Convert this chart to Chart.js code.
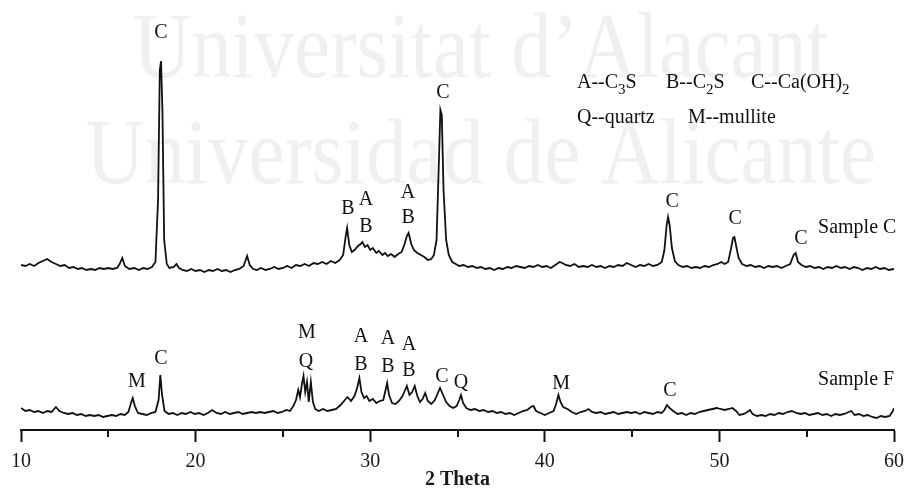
<!DOCTYPE html>
<html>
<head>
<meta charset="utf-8">
<title>XRD patterns</title>
<script src="https://cdn.jsdelivr.net/npm/chart.js@4.4.0/dist/chart.umd.min.js"></script>
<style>
  html, body { margin: 0; padding: 0; background: #fff; }
  canvas { display: block; }
</style>
</head>
<body>
<canvas id="xrdChart" width="908" height="490"></canvas>
<script>
// 2 theta range and ticks
const thetaMin = 10;
const thetaMax = 60;
const majorTicks = [10, 20, 30, 40, 50, 60];
const minorTicks = [15, 25, 35, 45, 55];

// Sample C pattern, [2 theta, intensity a.u.]
const sampleC = [
  [10.0, 20], [10.25, 19], [10.5, 21], [10.75, 19], [11.0, 22], [11.25, 24], [11.5, 26], [11.75, 23],
  [12.0, 21], [12.25, 19], [12.5, 20], [12.75, 17], [13.0, 18], [13.25, 16], [13.5, 17], [13.75, 15],
  [14.0, 16], [14.25, 15], [14.5, 17], [14.75, 16], [15.0, 17], [15.25, 16], [15.5, 17], [15.65, 21],
  [15.8, 27], [15.95, 19], [16.2, 16], [16.5, 17], [16.75, 15], [17.0, 17], [17.25, 16], [17.5, 18],
  [17.7, 23], [17.85, 85], [17.95, 215], [18.02, 224], [18.1, 175], [18.2, 45], [18.35, 21], [18.5, 17],
  [18.75, 18], [18.9, 21], [19.05, 17], [19.25, 15], [19.5, 14], [19.75, 16], [20.0, 14], [20.25, 15],
  [20.5, 13], [20.75, 15], [21.0, 14], [21.25, 16], [21.5, 14], [21.75, 15], [22.0, 13], [22.25, 15],
  [22.5, 16], [22.75, 19], [22.95, 29], [23.1, 20], [23.3, 16], [23.5, 15], [23.75, 17], [24.0, 15],
  [24.25, 16], [24.5, 18], [24.75, 16], [25.0, 17], [25.25, 19], [25.5, 17], [25.75, 20], [26.0, 19],
  [26.25, 21], [26.5, 19], [26.75, 22], [27.0, 21], [27.25, 23], [27.5, 21], [27.75, 24], [28.0, 22],
  [28.25, 25], [28.45, 30], [28.6, 49], [28.68, 57], [28.8, 40], [28.95, 33], [29.1, 35], [29.3, 39],
  [29.45, 41], [29.55, 43], [29.7, 38], [29.85, 40], [30.0, 35], [30.15, 37], [30.35, 32], [30.5, 34],
  [30.7, 30], [30.85, 32], [31.0, 29], [31.2, 31], [31.4, 28], [31.6, 31], [31.8, 33], [31.95, 40],
  [32.1, 49], [32.2, 52], [32.35, 41], [32.5, 35], [32.7, 32], [32.9, 30], [33.1, 28], [33.3, 25],
  [33.5, 26], [33.65, 30], [33.8, 45], [33.92, 115], [34.02, 175], [34.1, 170], [34.2, 95], [34.35, 45],
  [34.5, 30], [34.7, 23], [34.9, 21], [35.1, 19], [35.35, 20], [35.6, 18], [35.85, 19], [36.1, 17],
  [36.35, 18], [36.6, 16], [36.85, 17], [37.1, 15], [37.35, 17], [37.6, 16], [37.85, 18], [38.1, 17],
  [38.35, 19], [38.6, 18], [38.85, 17], [39.1, 19], [39.35, 18], [39.6, 20], [39.85, 18], [40.1, 19],
  [40.35, 17], [40.6, 20], [40.85, 23], [41.0, 22], [41.2, 20], [41.45, 19], [41.7, 21], [41.95, 18],
  [42.2, 19], [42.45, 18], [42.7, 20], [42.95, 18], [43.2, 19], [43.45, 17], [43.7, 19], [43.95, 18],
  [44.2, 20], [44.45, 19], [44.7, 22], [44.95, 20], [45.2, 18], [45.45, 20], [45.7, 19], [45.95, 21],
  [46.2, 19], [46.45, 20], [46.7, 23], [46.85, 35], [46.98, 60], [47.06, 68], [47.15, 60], [47.28, 37],
  [47.45, 24], [47.65, 20], [47.9, 18], [48.15, 19], [48.4, 17], [48.65, 18], [48.9, 17], [49.15, 19],
  [49.4, 18], [49.65, 20], [49.9, 21], [50.1, 23], [50.3, 21], [50.5, 23], [50.65, 35], [50.78, 47],
  [50.86, 48], [50.95, 40], [51.1, 27], [51.3, 21], [51.55, 19], [51.8, 20], [52.05, 18], [52.3, 19],
  [52.55, 17], [52.8, 19], [53.05, 18], [53.3, 19], [53.55, 17], [53.8, 19], [54.05, 21], [54.25, 30],
  [54.37, 32], [54.5, 23], [54.7, 20], [54.95, 18], [55.2, 19], [55.45, 17], [55.7, 18], [55.95, 16],
  [56.2, 18], [56.45, 17], [56.7, 19], [56.95, 17], [57.2, 18], [57.45, 16], [57.7, 18], [57.95, 17],
  [58.2, 15], [58.45, 17], [58.7, 16], [58.95, 18], [59.2, 16], [59.45, 17], [59.7, 15], [60.0, 16]
];

// Sample F pattern, [2 theta, intensity a.u.]
const sampleF = [
  [10.0, 22], [10.25, 19], [10.5, 20], [10.75, 18], [11.0, 19], [11.25, 17], [11.5, 19], [11.75, 18],
  [12.0, 23], [12.2, 19], [12.45, 17], [12.7, 16], [12.95, 17], [13.2, 15], [13.45, 16], [13.7, 14],
  [13.95, 15], [14.2, 14], [14.45, 15], [14.7, 13], [14.95, 14], [15.2, 15], [15.45, 14], [15.7, 16],
  [15.95, 15], [16.15, 18], [16.3, 27], [16.4, 32], [16.52, 24], [16.7, 17], [16.95, 16], [17.2, 15],
  [17.45, 17], [17.7, 18], [17.88, 30], [17.98, 55], [18.08, 35], [18.22, 19], [18.45, 16], [18.7, 17],
  [18.95, 15], [19.2, 17], [19.45, 16], [19.7, 18], [19.95, 16], [20.2, 17], [20.45, 15], [20.7, 17],
  [20.95, 20], [21.2, 17], [21.45, 16], [21.7, 18], [21.95, 16], [22.2, 17], [22.45, 18], [22.7, 16],
  [22.95, 17], [23.2, 18], [23.45, 17], [23.7, 18], [23.95, 17], [24.2, 18], [24.45, 19], [24.7, 17],
  [24.95, 18], [25.2, 20], [25.4, 19], [25.6, 24], [25.75, 30], [25.88, 40], [25.98, 33], [26.08, 45],
  [26.18, 54], [26.28, 38], [26.38, 48], [26.48, 28], [26.6, 48], [26.72, 28], [26.85, 21], [27.05, 19],
  [27.3, 21], [27.55, 19], [27.8, 20], [28.05, 21], [28.3, 25], [28.5, 29], [28.7, 33], [28.9, 29],
  [29.1, 34], [29.25, 42], [29.38, 52], [29.5, 38], [29.65, 32], [29.8, 34], [29.95, 29], [30.15, 31],
  [30.35, 27], [30.55, 29], [30.75, 30], [30.88, 40], [30.97, 47], [31.08, 35], [31.25, 27], [31.45, 26],
  [31.65, 29], [31.85, 34], [32.0, 40], [32.1, 44], [32.25, 35], [32.4, 38], [32.55, 44], [32.7, 34],
  [32.85, 28], [33.0, 31], [33.15, 37], [33.3, 29], [33.5, 26], [33.7, 30], [33.85, 36], [34.0, 42],
  [34.15, 36], [34.35, 28], [34.55, 24], [34.75, 22], [34.95, 24], [35.1, 30], [35.2, 35], [35.32, 27],
  [35.5, 22], [35.75, 20], [36.0, 21], [36.25, 19], [36.5, 20], [36.75, 18], [37.0, 19], [37.25, 17],
  [37.5, 18], [37.75, 16], [38.0, 17], [38.25, 15], [38.5, 17], [38.75, 19], [39.0, 20], [39.2, 23],
  [39.35, 24], [39.5, 19], [39.75, 17], [40.0, 15], [40.25, 17], [40.5, 19], [40.65, 26], [40.78, 35],
  [40.9, 28], [41.05, 23], [41.3, 21], [41.55, 18], [41.8, 16], [42.05, 18], [42.3, 19], [42.5, 21],
  [42.7, 18], [42.95, 17], [43.2, 18], [43.45, 16], [43.7, 17], [43.95, 18], [44.2, 16], [44.45, 17],
  [44.7, 18], [44.95, 17], [45.2, 18], [45.45, 16], [45.7, 18], [45.95, 17], [46.2, 16], [46.45, 18],
  [46.7, 17], [46.85, 20], [47.0, 25], [47.15, 22], [47.35, 19], [47.6, 16], [47.85, 17], [48.1, 15],
  [48.35, 17], [48.6, 16], [48.85, 18], [49.1, 19], [49.35, 20], [49.6, 21], [49.85, 22], [50.05, 21],
  [50.3, 20], [50.55, 21], [50.75, 22], [50.95, 19], [51.15, 15], [51.4, 16], [51.6, 18], [51.75, 20],
  [51.9, 16], [52.15, 14], [52.4, 15], [52.65, 14], [52.9, 16], [53.15, 15], [53.4, 17], [53.65, 16],
  [53.9, 18], [54.15, 19], [54.4, 17], [54.65, 16], [54.9, 17], [55.15, 15], [55.4, 16], [55.65, 17],
  [55.9, 15], [56.15, 16], [56.4, 14], [56.65, 16], [56.9, 15], [57.15, 16], [57.4, 18], [57.55, 19],
  [57.75, 15], [58.0, 16], [58.25, 14], [58.5, 15], [58.75, 13], [59.0, 12], [59.25, 14], [59.5, 13],
  [59.75, 14], [59.9, 18], [60.0, 22]
];

// vertical shift of the upper pattern
const sampleCOffset = 145;

// phase markers: [letter, 2 theta, height on plot]
const sampleCPeaks = [
  ['C', 18.02, 397], ['B', 28.73, 221], ['A', 29.76, 230], ['B', 29.76, 203],
  ['A', 32.17, 237], ['B', 32.17, 212], ['C', 34.17, 337], ['C', 47.29, 228],
  ['C', 50.9, 211], ['C', 54.67, 191]
];
const sampleFPeaks = [
  ['M', 16.64, 48], ['C', 18.02, 71], ['M', 26.38, 97], ['Q', 26.32, 68],
  ['A', 29.47, 93], ['B', 29.47, 65], ['A', 31.02, 91], ['B', 31.02, 63],
  ['A', 32.22, 85], ['B', 32.22, 59], ['C', 34.11, 53], ['Q', 35.2, 47],
  ['M', 40.93, 46], ['C', 47.17, 39]
];
const sampleNames = [['Sample C', 55.65, 202], ['Sample F', 55.65, 50]];

const SERIF = '"Liberation Serif", "DejaVu Serif", serif';

function toPoints(rows, offset) {
  return rows.map(r => ({ x: r[0], y: r[1] + offset }));
}

// text with subscripts: parts are [text, isSub]
function drawRich(ctx, parts, x, y, size) {
  parts.forEach(([txt, sub]) => {
    ctx.font = (sub ? Math.round(size * 0.75) : size) + 'px ' + SERIF;
    ctx.fillText(txt, x, sub ? y + size * 0.3 : y);
    x += ctx.measureText(txt).width;
  });
}

const xrdDecor = {
  id: 'xrdDecor',
  beforeDraw(chart) {
    const ctx = chart.ctx;
    ctx.save();
    ctx.fillStyle = '#fff';
    ctx.fillRect(0, 0, chart.width, chart.height);
    // faint institutional watermark
    ctx.fillStyle = '#f0f0f0';
    ctx.textBaseline = 'alphabetic';
    ctx.textAlign = 'left';
    ctx.font = '94px ' + SERIF;
    [['Universitat d\u2019Alacant', 133, 77, 696], ['Universidad de Alicante', 86, 183, 790]].forEach(([t, x, y, w]) => {
      const m = ctx.measureText(t).width;
      ctx.save();
      ctx.translate(x, y);
      ctx.scale(w / m, 1);
      ctx.fillText(t, 0, 0);
      ctx.restore();
    });
    ctx.restore();
  },
  afterDatasetsDraw(chart) {
    const ctx = chart.ctx;
    const xs = chart.scales.x, ys = chart.scales.y;
    ctx.save();
    ctx.fillStyle = '#111';
    ctx.textAlign = 'center';
    ctx.textBaseline = 'middle';
    ctx.font = '20px ' + SERIF;
    sampleCPeaks.concat(sampleFPeaks).forEach(([t, x, y]) => {
      ctx.fillText(t, xs.getPixelForValue(x), ys.getPixelForValue(y));
    });
    ctx.textAlign = 'left';
    sampleNames.forEach(([t, x, y]) => {
      ctx.fillText(t, xs.getPixelForValue(x), ys.getPixelForValue(y));
    });
    // phase key
    ctx.textBaseline = 'alphabetic';
    drawRich(ctx, [['A--C'], ['3', true], ['S']], 577, 88, 20);
    drawRich(ctx, [['B--C'], ['2', true], ['S']], 666, 88, 20);
    drawRich(ctx, [['C--Ca(OH)'], ['2', true]], 751, 88, 20);
    drawRich(ctx, [['Q--quartz']], 577, 123, 20);
    drawRich(ctx, [['M--mullite']], 688, 123, 20);
    ctx.restore();
  },
  afterDraw(chart) {
    const ctx = chart.ctx;
    const xs = chart.scales.x;
    ctx.save();
    ctx.strokeStyle = '#111';
    ctx.lineWidth = 2;
    minorTicks.forEach(v => {
      const px = Math.round(xs.getPixelForValue(v));
      ctx.beginPath();
      ctx.moveTo(px, xs.top);
      ctx.lineTo(px, xs.top + 7);
      ctx.stroke();
    });
    ctx.restore();
  }
};

new Chart(document.getElementById('xrdChart'), {
  type: 'line',
  data: {
    datasets: [
      { label: 'Sample C', data: toPoints(sampleC, sampleCOffset) },
      { label: 'Sample F', data: toPoints(sampleF, 0) }
    ]
  },
  options: {
    responsive: false,
    animation: false,
    devicePixelRatio: 1,
    layout: { padding: { left: 21, right: 14, top: 0, bottom: 0 } },
    elements: {
      line: { borderColor: '#111', borderWidth: 1.8, tension: 0, fill: false },
      point: { radius: 0 }
    },
    plugins: { legend: { display: false }, tooltip: { enabled: false } },
    scales: {
      x: {
        type: 'linear',
        min: thetaMin,
        max: thetaMax,
        afterFit: scale => {
          scale.height = 60;
          scale.paddingLeft = 0;
          scale.paddingRight = 0;
        },
        afterBuildTicks: scale => { scale.ticks = majorTicks.map(v => ({ value: v })); },
        border: { display: true, color: '#111', width: 2 },
        grid: { display: true, drawOnChartArea: false, drawTicks: true, tickLength: 12, tickWidth: 2, tickColor: '#111' },
        ticks: { color: '#1a1a1a', font: { family: SERIF, size: 20 }, padding: 8, maxRotation: 0, autoSkip: false },
        title: { display: true, text: '2 Theta', color: '#1a1a1a', font: { family: SERIF, size: 20, weight: 'bold', lineHeight: 1 }, padding: 0 }
      },
      y: { display: false, min: 0, max: 430 }
    }
  },
  plugins: [xrdDecor]
});
</script>
</body>
</html>
